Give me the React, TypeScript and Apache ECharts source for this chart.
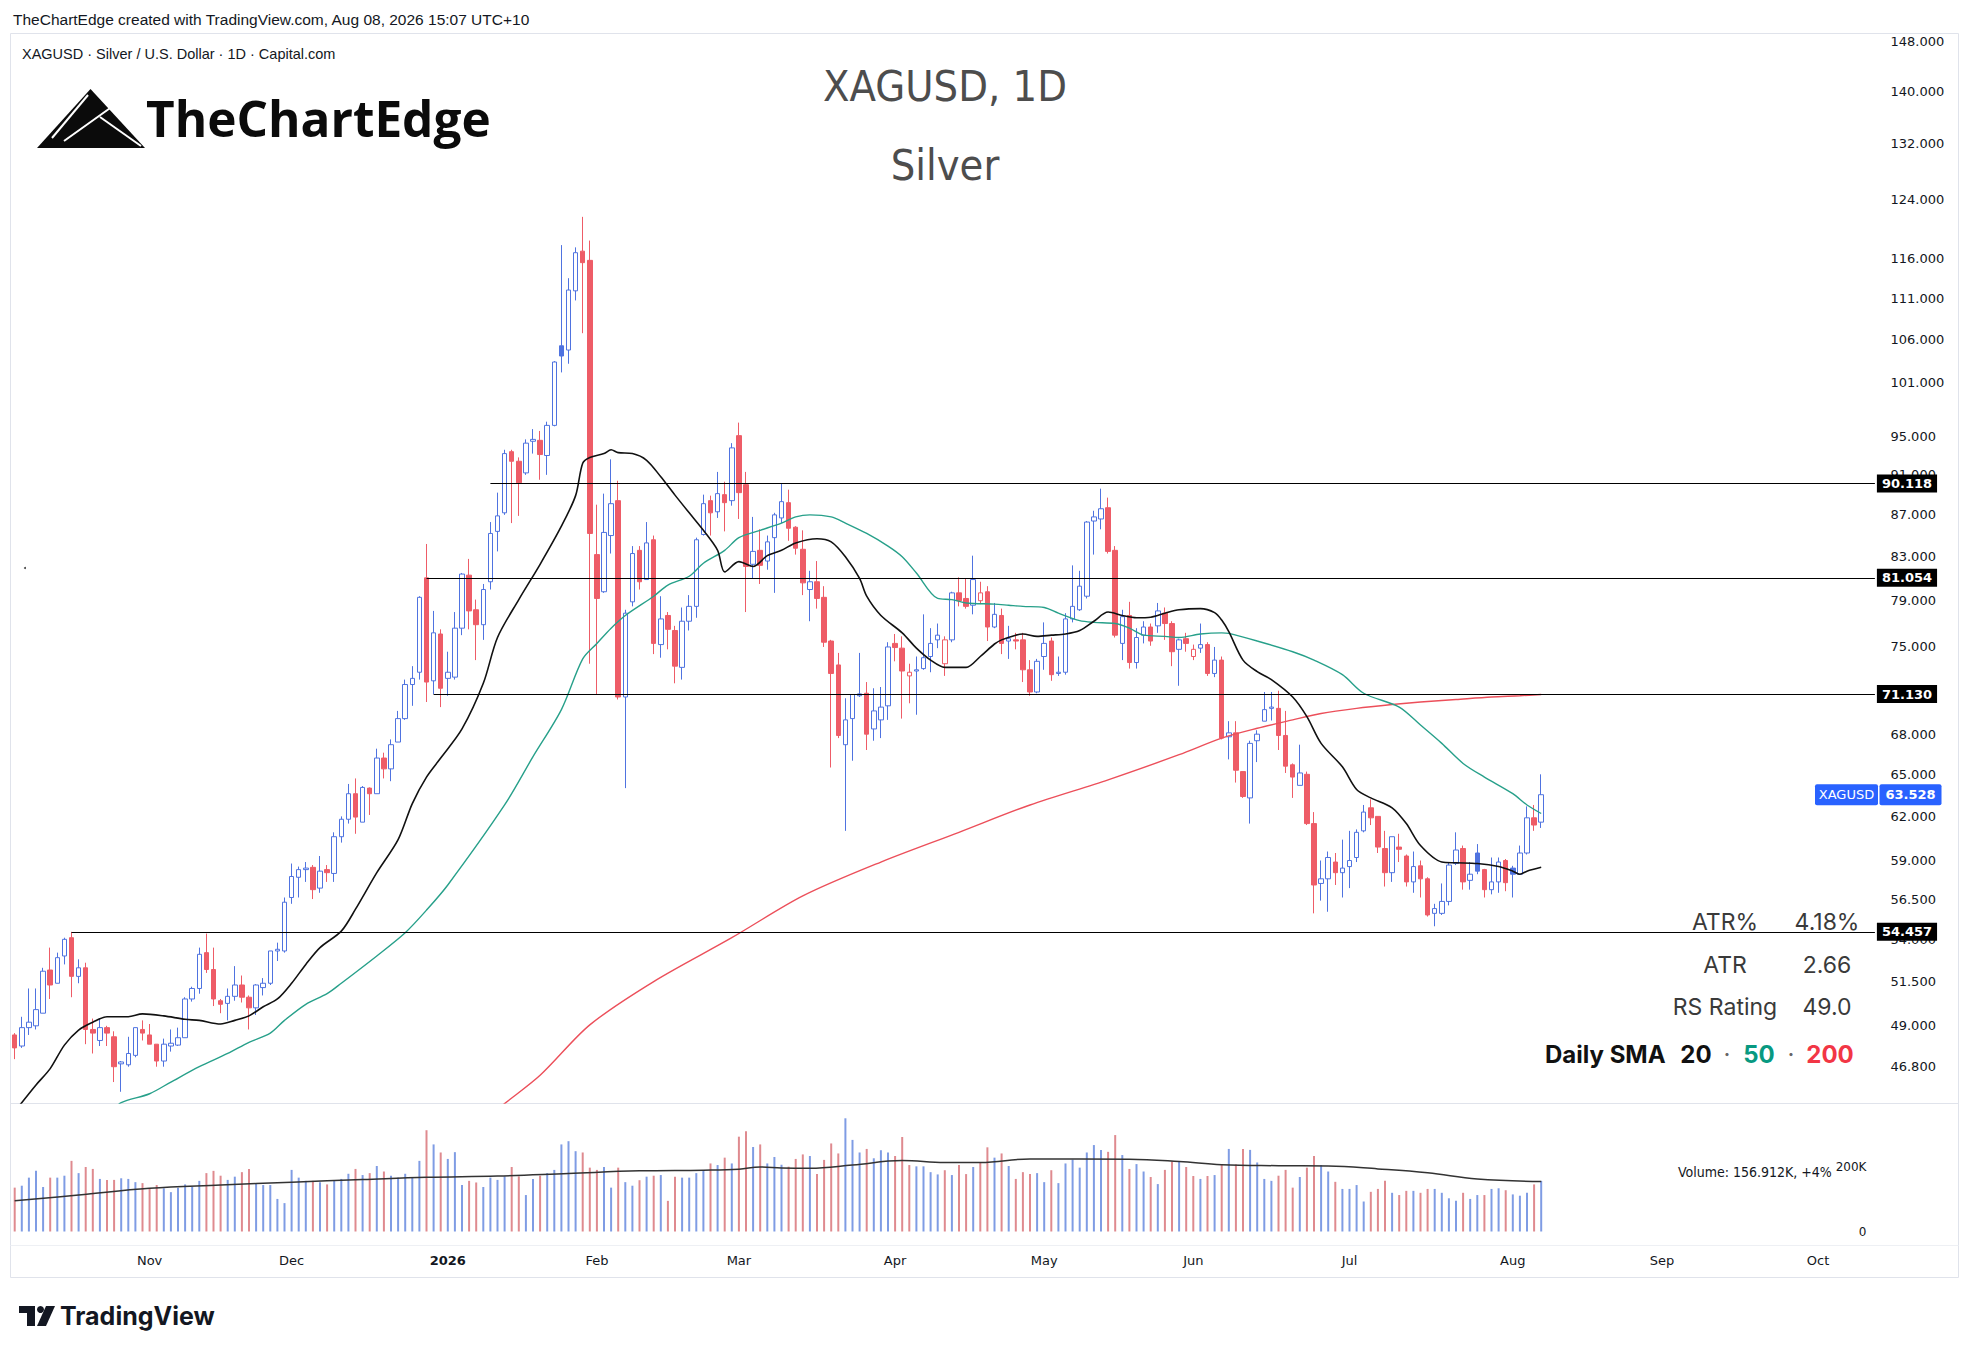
import React, { useEffect, useRef } from "react";
import * as echarts from "echarts";

// ---------- calendar ----------
const HOLIDAYS = ["2025-12-25", "2026-01-01", "2026-04-03"];
const N_CATEGORIES = 263;
const MONTHS = ["Jan", "Feb", "Mar", "Apr", "May", "Jun", "Jul", "Aug", "Sep", "Oct", "Nov", "Dec"];

// ---------- price data (XAGUSD daily, Oct 7 2025 -> Aug 7 2026) ----------
const opens = [
  48.5, 47.9, 48.9, 49.0, 49.7, 52.17, 51.4, 53.0, 54.1, 51.8,
  52.3, 48.8, 48.2, 48.9, 48.4, 46.95, 46.9, 47.4, 48.8, 48.5,
  48.0, 47.1, 47.9, 47.95, 48.35, 50.5, 51.1, 53.2, 52.2, 50.4,
  50.25, 50.65, 51.3, 50.6, 50.0, 51.15, 51.4, 53.3, 53.3, 56.6,
  57.9, 58.4, 58.55, 57.2, 58.4, 58.15, 60.6, 61.8, 63.6, 61.6,
  64.0, 63.6, 66.2, 65.4, 67.4, 69.2, 71.9, 72.9, 81.054, 72.2,
  76.1, 72.4, 72.5, 76.6, 81.3, 78.2, 76.9, 80.7, 85.4, 87.2,
  93.4, 92.4, 91.2, 94.5, 94.6, 93.0, 96.2, 105.2, 104.7, 111.9,
  117.0, 115.8, 83.2, 79.8, 85.0, 88.4, 70.9, 78.9, 83.6, 80.9,
  84.6, 75.2, 77.7, 76.4, 73.3, 77.2, 78.5, 85.1, 88.4, 87.3,
  89.0, 88.4, 95.1, 90.0, 82.3, 83.6, 82.6, 84.8, 86.7, 88.2,
  85.8, 83.7, 80.0, 80.7, 79.3, 75.5, 73.5, 67.2, 69.2, 71.0,
  71.2, 68.4, 69.1, 70.2, 75.3, 74.9, 72.6, 73.0, 73.2, 74.2,
  75.6, 73.6, 75.6, 79.7, 79.2, 78.6, 79.0, 79.8, 76.7, 77.7,
  75.5, 75.6, 75.6, 73.1, 71.3, 74.2, 75.5, 72.8, 72.9, 77.4,
  78.2, 79.4, 86.4, 86.6, 87.7, 83.6, 75.3, 77.7, 73.7, 76.0,
  76.7, 76.8, 77.9, 77.0, 74.8, 75.7, 74.2, 74.9, 75.2, 72.8,
  73.9, 67.8, 68.1, 65.2, 63.3, 67.5, 69.0, 70.0, 70.0, 67.9,
  65.7, 64.2, 65.0, 61.5, 57.5, 57.8, 58.9, 58.2, 58.6, 59.2,
  61.0, 62.6, 62.0, 59.8, 58.2, 59.9, 59.3, 57.6, 58.65, 57.8,
  55.6, 55.6, 56.35, 58.8, 59.8, 57.7, 59.5, 58.4, 57.1, 57.6,
  59.0, 58.5, 58.1, 59.5, 61.9, 61.6,
];
const highs = [
  48.6, 49.5, 51.1, 51.1, 52.3, 53.5, 53.2, 54.1, 54.457, 52.8,
  52.6, 49.4, 49.4, 49.0, 48.7, 47.1, 48.4, 48.9, 49.3, 49.1,
  48.0, 48.3, 48.8, 48.9, 50.6, 51.2, 53.5, 54.35, 53.5, 50.5,
  51.1, 52.4, 51.85, 50.7, 51.35, 51.7, 53.3, 53.8, 56.6, 58.8,
  58.6, 58.9, 58.7, 59.3, 58.7, 60.9, 62.0, 64.3, 64.7, 64.15,
  64.05, 66.9, 66.6, 67.6, 69.8, 72.3, 73.4, 79.4, 84.2, 78.1,
  76.5, 74.6, 78.0, 81.5, 82.8, 79.1, 80.5, 86.3, 89.2, 93.6,
  93.6, 92.8, 94.7, 95.8, 95.6, 96.6, 103.4, 117.8, 113.5, 117.5,
  121.6, 118.4, 88.0, 89.1, 92.6, 90.4, 78.2, 84.0, 84.0, 86.3,
  85.0, 79.4, 78.0, 76.8, 78.4, 79.5, 84.8, 89.0, 88.9, 91.3,
  90.3, 94.3, 96.5, 91.3, 86.8, 85.6, 85.0, 87.2, 90.1, 89.5,
  85.9, 85.5, 81.7, 82.6, 80.3, 75.6, 74.5, 70.8, 71.1, 74.5,
  72.1, 71.6, 71.7, 75.4, 76.1, 75.9, 73.6, 74.2, 77.8, 76.6,
  77.0, 75.9, 79.8, 81.1, 81.0, 83.1, 80.7, 80.3, 78.8, 78.3,
  76.8, 76.2, 76.2, 73.9, 74.0, 77.1, 75.8, 74.2, 77.9, 82.2,
  81.7, 86.4, 87.4, 89.6, 88.7, 84.0, 78.2, 78.9, 76.6, 77.2,
  77.0, 78.8, 78.4, 77.2, 75.7, 76.2, 75.2, 77.0, 75.4, 75.0,
  74.2, 69.0, 69.0, 65.2, 67.5, 68.3, 71.3, 71.3, 71.4, 69.8,
  65.8, 67.2, 65.2, 62.3, 59.0, 59.6, 59.5, 60.4, 61.0, 61.1,
  62.8, 63.2, 62.0, 61.0, 60.6, 60.8, 59.4, 59.6, 59.0, 57.9,
  56.2, 57.5, 58.9, 60.9, 60.0, 58.9, 60.1, 58.45, 59.2, 59.2,
  59.1, 58.65, 60.0, 62.7, 62.8, 65.0,
];
const lows = [
  47.2, 47.8, 48.5, 48.8, 49.7, 50.5, 51.4, 52.5, 50.6, 51.4,
  48.0, 47.5, 47.9, 47.9, 46.0, 45.5, 46.8, 47.3, 48.2, 48.0,
  46.8, 46.8, 47.6, 47.9, 48.35, 50.35, 50.8, 52.0, 50.1, 49.7,
  49.3, 50.4, 50.3, 48.8, 49.6, 50.7, 51.3, 52.7, 53.2, 56.2,
  56.6, 57.6, 56.5, 56.9, 57.6, 57.6, 60.2, 61.5, 60.8, 61.6,
  62.1, 63.6, 64.7, 64.5, 67.4, 69.1, 70.2, 72.3, 70.5, 71.13,
  70.1, 71.0, 72.3, 76.0, 76.5, 73.9, 75.6, 80.0, 83.5, 87.0,
  86.2, 86.9, 91.0, 93.2, 90.5, 91.0, 96.1, 102.1, 103.1, 110.7,
  106.7, 73.6, 71.13, 79.7, 83.3, 70.7, 64.0, 78.5, 80.0, 80.9,
  74.4, 74.1, 74.8, 72.0, 72.3, 76.4, 77.5, 85.0, 85.0, 86.7,
  85.4, 87.9, 86.6, 78.0, 81.0, 80.5, 81.8, 79.7, 86.2, 84.5,
  83.2, 79.5, 77.2, 78.3, 75.0, 65.5, 67.7, 61.0, 66.0, 70.9,
  66.8, 67.5, 67.7, 69.1, 73.8, 69.2, 70.4, 69.5, 73.1, 72.9,
  74.9, 72.6, 75.4, 78.5, 78.3, 77.8, 78.7, 75.5, 76.6, 74.4,
  74.0, 74.8, 72.1, 71.0, 71.2, 73.1, 72.2, 72.6, 72.7, 77.1,
  78.1, 79.2, 83.2, 85.6, 83.3, 75.8, 73.9, 73.2, 73.2, 75.3,
  75.1, 76.2, 75.6, 73.4, 71.8, 74.6, 73.9, 74.5, 72.6, 72.5,
  67.6, 66.1, 64.4, 63.3, 61.5, 65.9, 69.0, 69.05, 66.8, 65.1,
  63.3, 64.2, 61.4, 55.6, 56.4, 55.7, 57.4, 56.6, 57.2, 58.9,
  60.9, 61.4, 59.5, 57.3, 57.6, 58.9, 57.3, 56.9, 56.6, 55.4,
  54.8, 55.5, 56.1, 58.7, 57.1, 57.1, 58.1, 56.6, 56.8, 56.9,
  57.0, 56.6, 58.1, 59.4, 61.0, 61.2,
];
const closes = [
  47.8, 48.9, 49.2, 49.9, 52.1, 51.3, 52.9, 54.0, 51.8, 52.3,
  48.8, 48.6, 48.9, 48.6, 46.8, 47.05, 47.5, 48.9, 48.6, 48.0,
  47.1, 48.0, 48.05, 48.35, 50.5, 51.1, 53.1, 52.2, 50.5, 50.2,
  50.65, 51.3, 50.6, 50.0, 51.3, 51.4, 53.3, 53.4, 56.3, 57.95,
  58.4, 58.5, 57.1, 58.3, 58.2, 60.6, 61.8, 63.6, 61.95, 64.05,
  63.6, 66.2, 65.4, 67.2, 69.2, 71.9, 72.4, 79.3, 72.1, 76.2,
  71.6, 72.9, 76.6, 81.4, 78.1, 76.9, 80.0, 85.2, 86.9, 93.2,
  92.4, 90.2, 94.3, 94.7, 93.1, 96.2, 103.3, 104.0, 112.0, 116.8,
  115.5, 85.2, 79.2, 85.3, 88.1, 70.9, 77.9, 83.3, 80.7, 84.3,
  75.3, 77.4, 76.5, 73.4, 77.2, 78.5, 84.6, 88.1, 87.2, 89.1,
  88.2, 93.8, 89.2, 82.1, 83.5, 82.2, 84.4, 87.0, 88.3, 85.7,
  83.8, 80.6, 80.7, 79.2, 75.4, 72.8, 67.9, 69.1, 71.1, 71.15,
  68.0, 69.8, 70.1, 75.0, 74.95, 73.0, 72.9, 73.1, 74.1, 75.3,
  76.0, 75.6, 79.7, 79.0, 78.5, 80.9, 79.7, 76.7, 77.8, 75.3,
  75.7, 75.5, 73.1, 71.3, 73.8, 75.3, 72.7, 72.9, 77.4, 78.5,
  80.3, 86.3, 86.8, 87.6, 83.5, 76.0, 77.6, 73.7, 75.8, 76.7,
  75.5, 78.1, 77.0, 74.6, 75.6, 75.3, 74.8, 75.2, 72.8, 73.9,
  67.7, 68.1, 65.3, 63.4, 67.3, 68.0, 69.9, 70.1, 67.9, 65.6,
  64.8, 65.1, 61.5, 57.4, 57.8, 59.2, 58.2, 58.5, 59.0, 60.9,
  62.3, 61.9, 59.9, 58.2, 60.6, 59.75, 57.6, 58.6, 57.8, 55.5,
  55.9, 56.35, 58.7, 59.7, 57.6, 58.1, 58.3, 57.1, 57.6, 58.9,
  57.55, 58.1, 59.5, 61.9, 61.4, 63.528,
];
// volume in thousands
const volumes = [
  136, 142, 167, 188, 138, 167, 167, 173, 219, 181,
  200, 194, 163, 160, 160, 165, 163, 153, 150, 134,
  144, 134, 122, 136, 146, 138, 157, 181, 188, 173,
  160, 170, 184, 194, 148, 144, 144, 101, 88, 191,
  167, 157, 157, 153, 146, 157, 163, 179, 194, 175,
  181, 203, 186, 173, 167, 179, 167, 219, 314, 270,
  245, 225, 246, 144, 157, 152, 138, 167, 160, 171,
  200, 171, 113, 163, 173, 181, 191, 270, 280, 249,
  245, 198, 191, 200, 136, 198, 153, 142, 159, 170,
  173, 175, 95, 170, 167, 167, 181, 188, 211, 206,
  229, 211, 294, 311, 262, 270, 211, 231, 207, 201,
  225, 239, 234, 178, 222, 273, 242, 351, 284, 245,
  256, 227, 252, 245, 234, 293, 206, 202, 202, 184,
  177, 190, 175, 206, 178, 200, 214, 261, 229, 242,
  203, 163, 184, 178, 181, 153, 190, 150, 211, 223,
  198, 245, 268, 253, 247, 299, 237, 194, 209, 186,
  169, 147, 191, 217, 217, 200, 172, 163, 172, 175,
  208, 256, 208, 256, 253, 214, 163, 157, 173, 191,
  136, 169, 198, 234, 206, 186, 154, 132, 132, 144,
  93, 123, 132, 157, 120, 113, 126, 126, 120, 132,
  132, 120, 103, 95, 120, 101, 113, 113, 132, 134,
  128, 115, 111, 120, 146, 156.912,
];

// moving averages: [bar index, value]
const sma20 = [
  [0, 44.5], [3, 45.85], [5, 46.7], [7, 47.95], [9, 48.77], [11, 49.2], [13, 49.5], [16, 49.5], [18, 49.66],
  [21, 49.55], [24, 49.36], [26, 49.3], [29, 49.1], [31, 49.3], [33, 49.55], [35, 50.06], [37, 50.5],
  [39, 51.4], [41, 52.5], [43, 53.5], [46, 54.5], [48, 55.86], [51, 58.2], [54, 60.4], [56, 62.9],
  [58, 64.8], [60, 66.2], [63, 68.4], [66, 72.0], [68, 75.8], [71, 79.1], [74, 82.3], [77, 85.9],
  [79, 88.9], [80, 92.2], [81, 92.8], [83, 93.2], [84, 93.6], [85, 93.3], [87, 93.2], [89, 92.5],
  [91, 90.8], [93, 88.95], [95, 87.2], [97, 85.5], [99, 83.6], [100, 81.6], [102, 82.55], [104, 82.1],
  [106, 83.1], [108, 83.6], [110, 84.3], [113, 84.7], [115, 84.4], [117, 83.0], [119, 81.0], [120, 79.4],
  [122, 77.7], [125, 76.2], [127, 74.9], [129, 73.9], [131, 73.3], [134, 73.3], [136, 74.2], [138, 75.25],
  [139, 75.6], [141, 76.0], [142, 76.1], [144, 75.9], [146, 76.0], [148, 76.1], [150, 76.4], [152, 77.2],
  [154, 78.0], [156, 77.7], [158, 77.5], [160, 77.55], [162, 77.9], [164, 78.2], [167, 78.3], [169, 77.95],
  [170, 77.3], [171, 76.3], [173, 73.9], [175, 72.95], [177, 72.3], [180, 70.9], [182, 69.35], [184, 67.3],
  [187, 65.55], [189, 63.9], [191, 63.3], [194, 62.6], [196, 61.5], [198, 60.0], [201, 58.9], [203, 58.85],
  [206, 58.8], [209, 58.6], [211, 58.3], [212, 58.1], [213, 58.3], [215, 58.55],
];
const sma50 = [
  [14, 44.6], [15, 44.95], [19, 45.4], [22, 46.0], [26, 46.8], [30, 47.5], [33, 48.1], [36, 48.6], [38, 49.3],
  [41, 50.2], [44, 50.8], [46, 51.4], [51, 53.0], [55, 54.4], [58, 55.8], [61, 57.4], [69, 62.8], [73, 66.3],
  [77, 69.9], [80, 74.0], [82, 75.3], [84, 76.6], [86, 77.7], [90, 79.4], [92, 80.4], [95, 81.2], [97, 82.4],
  [100, 83.6], [102, 84.8], [105, 85.5], [108, 86.2], [110, 86.8], [112, 87.0], [115, 86.8], [117, 86.2],
  [120, 85.2], [123, 84.0], [125, 83.0], [127, 81.5], [130, 79.2], [132, 79.1], [134, 78.8], [138, 78.7],
  [140, 78.6], [142, 78.5], [145, 78.4], [147, 77.9], [150, 77.25], [152, 77.1], [155, 77.0], [157, 76.6],
  [159, 76.0], [162, 75.9], [164, 75.8], [167, 76.1], [170, 76.2], [171, 76.15], [175, 75.5], [180, 74.6],
  [183, 73.9], [187, 72.7], [190, 71.2], [195, 70.1], [198, 68.7], [201, 67.3], [204, 65.8], [207, 64.8],
  [211, 63.6], [213, 62.8], [215, 62.2],
];
const sma200 = [
  [68, 44.6], [69, 44.9], [74, 46.35], [81, 49.05], [90, 51.5], [101, 54.1], [111, 56.7], [122, 58.9],
  [133, 60.9], [143, 62.8], [154, 64.6], [164, 66.45], [170, 67.7], [175, 68.45], [180, 69.1], [184, 69.6],
  [189, 70.0], [194, 70.3], [198, 70.5], [203, 70.7], [208, 70.9], [212, 71.0], [215, 71.1],
];
const volumeMA = [
  [0, 95], [9, 113], [19, 134], [29, 144], [39, 153], [49, 161], [58, 168], [68, 172], [78, 180], [88, 188],
  [97, 190], [102, 193], [105, 200], [108, 197], [112, 196], [118, 206], [125, 220], [131, 214], [136, 214],
  [143, 225], [157, 224], [164, 217], [170, 207], [178, 204], [185, 203], [192, 194], [199, 182],
  [206, 163], [215, 155],
];

// horizontal levels and the bar they start from
const levels = [90.118, 81.054, 71.13, 54.457];
const levelStarts = [67, 58, 59, 8];

const priceTicks = [148, 140, 132, 124, 116, 111, 106, 101, 95, 91, 87, 83, 79, 75, 68, 65, 62, 59, 56.5, 54, 51.5, 49, 46.8];
const volumeTicks = [0, 200];
const LAST_PRICE = 63.528;

const BLUE = "#4f73e0";
const RED = "#ee5c67";
const VOL_BLUE = "#7f9ce4";
const VOL_RED = "#df8a8f";
const GREEN = "#27a08a";
const SMA_RED = "#ec4f5a";
const AXIS_FONT = "DejaVu Sans";

function buildCategories(): string[] {
  const out: string[] = [];
  const d = new Date(Date.UTC(2025, 9, 7));
  while (out.length < N_CATEGORIES) {
    const wd = d.getUTCDay();
    const s = d.toISOString().slice(0, 10);
    if (wd !== 0 && wd !== 6 && !HOLIDAYS.includes(s)) out.push(s);
    d.setUTCDate(d.getUTCDate() + 1);
  }
  return out;
}

const ln = (v: number) => Math.log(v);

export default function App() {
  const ref = useRef<HTMLDivElement>(null);

  useEffect(() => {
    if (!ref.current) return;
    const chart = echarts.init(ref.current, undefined, { renderer: "svg" });
    const cats = buildCategories();

    const isMonthStart = (i: number) => i > 0 && cats[i].slice(0, 7) !== cats[i - 1].slice(0, 7);

    const candleData = opens.map((o, i) => {
      const c = closes[i];
      const prev = i === 0 ? o : closes[i - 1];
      const col = c >= prev ? BLUE : RED;
      const fill = c > o ? "#ffffff" : col;
      return {
        value: [ln(o), ln(c), ln(lows[i]), ln(highs[i])],
        itemStyle: { color: fill, color0: fill, borderColor: col, borderColor0: col, borderWidth: 1 },
      };
    });
    const volData = volumes.map((v, i) => {
      const prev = i === 0 ? opens[0] : closes[i - 1];
      return { value: v, itemStyle: { color: closes[i] >= prev ? VOL_BLUE : VOL_RED } };
    });
    const toLn = (arr: number[][]) => arr.map(([x, y]) => [x, ln(y)]);

    const gridLeft = 11.15;
    const gridWidth = N_CATEGORIES * 7.1;

    chart.setOption({
      animation: false,
      backgroundColor: "#ffffff",
      grid: [
        { left: gridLeft, top: 33, width: gridWidth, height: 1070 },
        { left: gridLeft, top: 1103, width: gridWidth, height: 128.5 },
      ],
      xAxis: [
        {
          type: "category", gridIndex: 0, data: cats, boundaryGap: true,
          axisLine: { show: false }, axisTick: { show: false }, axisLabel: { show: false }, splitLine: { show: false },
        },
        {
          type: "category", gridIndex: 1, data: cats, boundaryGap: true,
          axisLine: { show: false }, axisTick: { show: false }, splitLine: { show: false },
          axisLabel: {
            interval: (i: number) => isMonthStart(i),
            formatter: (v: string) => {
              const m = parseInt(v.slice(5, 7), 10);
              return m === 1 ? "{y|" + v.slice(0, 4) + "}" : MONTHS[m - 1];
            },
            margin: 22, fontFamily: AXIS_FONT, fontSize: 13, color: "#131722",
            rich: { y: { fontFamily: AXIS_FONT, fontSize: 13, fontWeight: "bold", color: "#131722" } },
          },
        },
      ],
      yAxis: [
        {
          type: "value", gridIndex: 0, position: "right", min: ln(44.93), max: ln(149.5), scale: true,
          splitLine: { show: false }, axisLine: { show: false }, axisTick: { show: false },
          axisLabel: {
            customValues: priceTicks.map(ln),
            formatter: (v: number) => Math.exp(v).toFixed(3),
            margin: 12, fontFamily: AXIS_FONT, fontSize: 13, color: "#131722",
          },
        },
        {
          type: "value", gridIndex: 1, position: "right", min: 0, max: 398.4,
          splitLine: { show: false }, axisLine: { show: false }, axisTick: { show: false },
          axisLabel: {
            inside: true, customValues: volumeTicks,
            formatter: (v: number) => (v === 0 ? "0" : v + "K"),
            margin: 12, fontFamily: AXIS_FONT, fontSize: 12, color: "#131722",
          },
        },
      ],
      series: [
        {
          type: "candlestick", xAxisIndex: 0, yAxisIndex: 0, barWidth: 5, data: candleData, z: 2,
          markLine: {
            silent: true, symbol: ["none", "none"], animation: false,
            lineStyle: { color: "#000000", width: 1.2, type: "solid" },
            label: {
              show: true, position: "end", formatter: "{b}", distance: 2,
              backgroundColor: "#000000", color: "#ffffff", padding: [3, 5, 2, 5],
              fontFamily: AXIS_FONT, fontSize: 13, fontWeight: "bold",
            },
            emphasis: { disabled: true },
            data: levels.map((v, i) => [
              { name: v.toFixed(3), coord: [levelStarts[i], ln(v)] },
              { coord: [N_CATEGORIES - 1, ln(v)] },
            ]),
          },
        },
        {
          type: "line", name: "SMA200", xAxisIndex: 0, yAxisIndex: 0, data: toLn(sma200), showSymbol: false,
          smooth: 0.3, lineStyle: { color: SMA_RED, width: 1.4 }, z: 3, silent: true,
        },
        {
          type: "line", name: "SMA50", xAxisIndex: 0, yAxisIndex: 0, data: toLn(sma50), showSymbol: false,
          smooth: 0.3, lineStyle: { color: GREEN, width: 1.4 }, z: 3, silent: true,
        },
        {
          type: "line", name: "SMA20", xAxisIndex: 0, yAxisIndex: 0, data: toLn(sma20), showSymbol: false,
          smooth: 0.3, lineStyle: { color: "#111111", width: 1.6 }, z: 4, silent: true,
        },
        {
          type: "bar", xAxisIndex: 1, yAxisIndex: 1, data: volData, barWidth: 2, silent: true,
        },
        {
          type: "line", xAxisIndex: 1, yAxisIndex: 1, data: volumeMA, showSymbol: false, smooth: 0.4,
          lineStyle: { color: "#333333", width: 1.5 }, silent: true, z: 3,
        },
      ],
    });

    const yTag = chart.convertToPixel({ yAxisIndex: 0 } as any, ln(LAST_PRICE)) as unknown as number;

    const txt = (x: number, y: number, text: string, o: any = {}) => ({
      type: "text", x, y, silent: true,
      style: {
        text, fill: o.fill || "#131722", fontSize: o.size || 14, fontFamily: o.family || "Liberation Sans",
        fontWeight: o.weight || "normal", align: o.align || "left", verticalAlign: "middle",
      },
    });

    const graphics: any[] = [
      { type: "rect", silent: true, shape: { x: 10.5, y: 33.5, width: 1948, height: 1244 }, style: { fill: "none", stroke: "#e0e3eb", lineWidth: 1 } },
      { type: "line", silent: true, shape: { x1: 10.5, y1: 1103.5, x2: 1958.5, y2: 1103.5 }, style: { stroke: "#e0e3eb", lineWidth: 1 } },
      { type: "line", silent: true, shape: { x1: 10.5, y1: 1245.5, x2: 1958.5, y2: 1245.5 }, style: { stroke: "#eef0f4", lineWidth: 1 } },
      txt(13, 19, "TheChartEdge created with TradingView.com, Aug 08, 2026 15:07 UTC+10", { size: 15.5, fill: "#131722" }),
      txt(22, 54, "XAGUSD · Silver / U.S. Dollar · 1D · Capital.com", { size: 14.5, fill: "#131722" }),
      txt(945, 86, "XAGUSD, 1D", { size: 43, family: "DejaVu Sans Condensed", fill: "#4d4d4d", align: "center" }),
      txt(945, 165, "Silver", { size: 43, family: "DejaVu Sans Condensed", fill: "#4d4d4d", align: "center" }),
      // logo
      { type: "polygon", silent: true, shape: { points: [[90.5, 89], [37, 148], [145, 148]] }, style: { fill: "#0b0b0b" } },
      { type: "line", silent: true, shape: { x1: 88, y1: 95, x2: 52, y2: 138 }, style: { stroke: "#ffffff", lineWidth: 2 } },
      { type: "line", silent: true, shape: { x1: 113, y1: 106, x2: 64, y2: 141 }, style: { stroke: "#ffffff", lineWidth: 2 } },
      { type: "line", silent: true, shape: { x1: 100, y1: 117, x2: 141, y2: 146 }, style: { stroke: "#ffffff", lineWidth: 2 } },
      txt(146, 118, "TheChartEdge", { size: 49.5, family: "Open Sans", weight: "bold", fill: "#0b0b0b" }),
      // stray dot
      { type: "circle", silent: true, shape: { cx: 25, cy: 568, r: 1 }, style: { fill: "#444" } },
      // right side statistics
      txt(1725, 922, "ATR%", { size: 23, family: "Inter", fill: "#3a3a3a", align: "center" }),
      txt(1827, 922, "4.18%", { size: 23, family: "Inter", fill: "#3a3a3a", align: "center" }),
      txt(1725, 965, "ATR", { size: 23, family: "Inter", fill: "#3a3a3a", align: "center" }),
      txt(1827, 965, "2.66", { size: 23, family: "Inter", fill: "#3a3a3a", align: "center" }),
      txt(1725, 1007, "RS Rating", { size: 23, family: "Inter", fill: "#3a3a3a", align: "center" }),
      txt(1827, 1007, "49.0", { size: 23, family: "Inter", fill: "#3a3a3a", align: "center" }),
      txt(1545, 1054, "Daily SMA", { size: 24, family: "Inter", weight: "bold", fill: "#111111" }),
      txt(1696, 1054, "20", { size: 24, family: "Inter", weight: "bold", fill: "#111111", align: "center" }),
      txt(1727, 1054, "·", { size: 24, family: "Inter", fill: "#666666", align: "center" }),
      txt(1759, 1054, "50", { size: 24, family: "Inter", weight: "bold", fill: "#089981", align: "center" }),
      txt(1791, 1054, "·", { size: 24, family: "Inter", fill: "#666666", align: "center" }),
      txt(1830, 1054, "200", { size: 24, family: "Inter", weight: "bold", fill: "#f23645", align: "center" }),
      // volume legend
      txt(1678, 1172, "Volume: 156.912K, +4%", { size: 14, family: "DejaVu Sans Condensed", fill: "#131722" }),
      // last price tag
      { type: "rect", silent: true, shape: { x: 1815, y: yTag - 10.5, width: 63, height: 21, r: 2 }, style: { fill: "#2962ff" } },
      { type: "rect", silent: true, shape: { x: 1879.5, y: yTag - 10.5, width: 62, height: 21, r: 2 }, style: { fill: "#2962ff" } },
      txt(1846.5, yTag, "XAGUSD", { size: 13, family: AXIS_FONT, fill: "#ffffff", align: "center" }),
      txt(1910.5, yTag, "63.528", { size: 13, family: AXIS_FONT, weight: "bold", fill: "#ffffff", align: "center" }),
      // TradingView logo
      { type: "polygon", silent: true, shape: { points: [[19, 1306], [35, 1306], [35, 1326], [27, 1326], [27, 1313], [19, 1313]] }, style: { fill: "#131722" } },
      { type: "circle", silent: true, shape: { cx: 40.5, cy: 1309.5, r: 3.5 }, style: { fill: "#131722" } },
      { type: "polygon", silent: true, shape: { points: [[46, 1306], [55, 1306], [46, 1326], [37, 1326]] }, style: { fill: "#131722" } },
      txt(60, 1316, "TradingView", { size: 25, family: "Inter", weight: "bold", fill: "#131722" }),
    ];

    chart.setOption({ graphic: graphics });

    return () => chart.dispose();
  }, []);

  return (
    <div
      ref={ref}
      style={{ position: "fixed", left: 0, top: 0, width: 1972, height: 1353, background: "#fff" }}
    />
  );
}
